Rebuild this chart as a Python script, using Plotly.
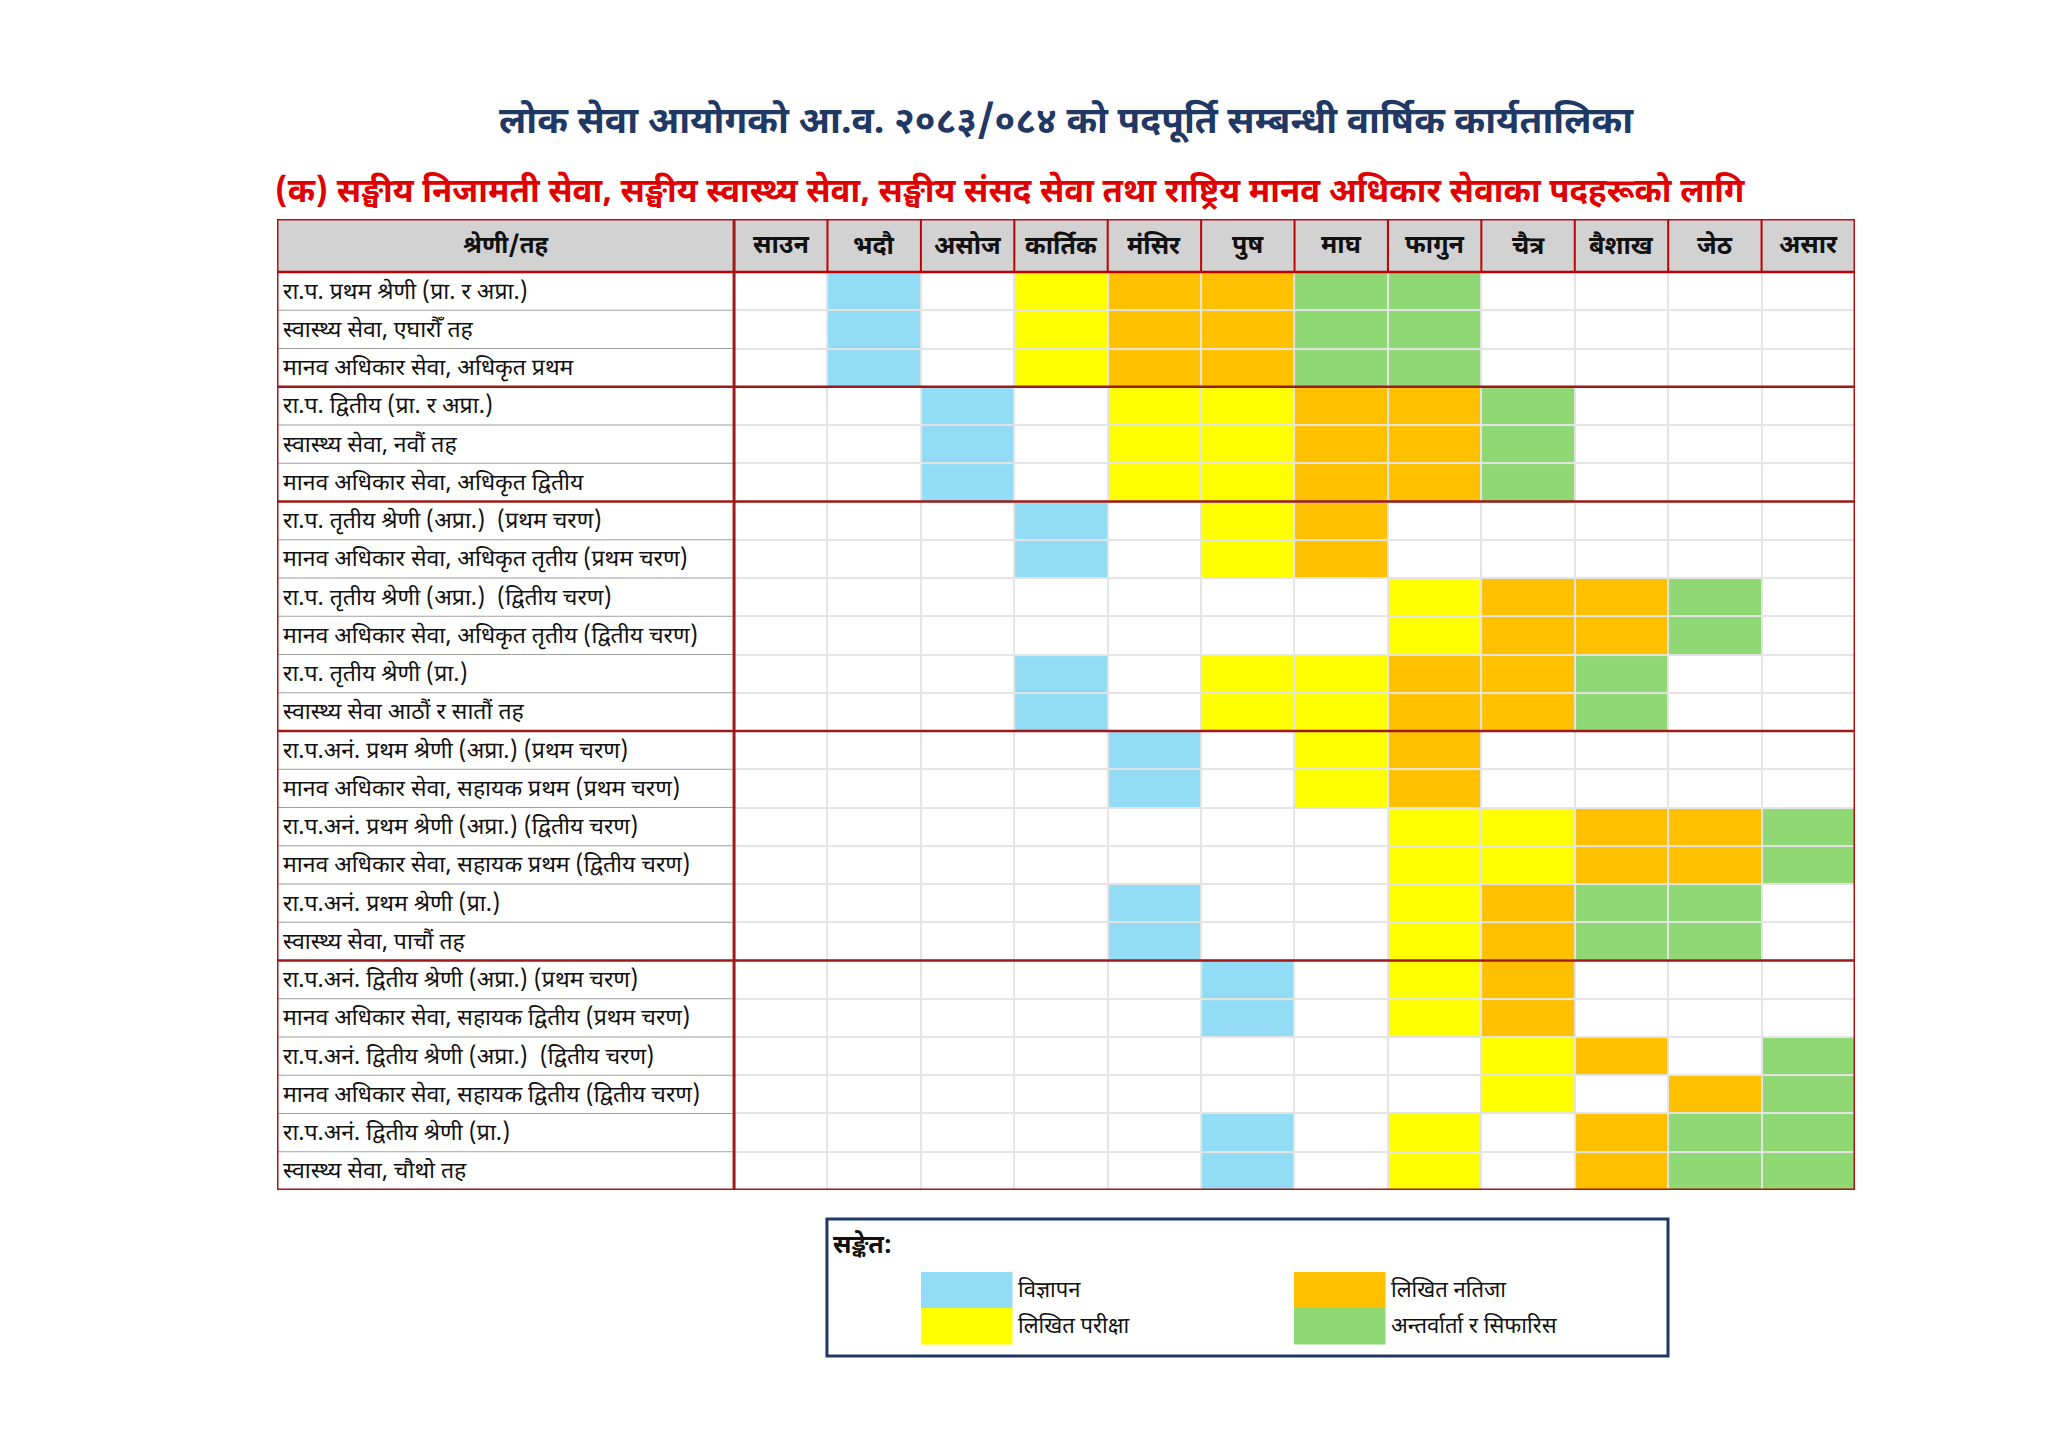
import plotly.graph_objects as go

# ---------------- data ----------------
title_text = "लोक सेवा आयोगको आ.व. २०८३/०८४ को पदपूर्ति सम्बन्धी वार्षिक कार्यतालिका"
subtitle_text = "(क) सङ्घीय निजामती सेवा, सङ्घीय स्वास्थ्य सेवा, सङ्घीय संसद सेवा तथा राष्ट्रिय मानव अधिकार सेवाका पदहरूको लागि"
header_label = "श्रेणी/तह"
months = ["साउन", "भदौ", "असोज", "कार्तिक", "मंसिर", "पुष", "माघ", "फागुन", "चैत्र", "बैशाख", "जेठ", "असार"]

row_labels = [
    "रा.प. प्रथम श्रेणी (प्रा. र अप्रा.)",
    "स्वास्थ्य सेवा, एघारौँ तह",
    "मानव अधिकार सेवा, अधिकृत प्रथम",
    "रा.प. द्वितीय (प्रा. र अप्रा.)",
    "स्वास्थ्य सेवा, नवौं तह",
    "मानव अधिकार सेवा, अधिकृत द्वितीय",
    "रा.प. तृतीय श्रेणी (अप्रा.)  (प्रथम चरण)",
    "मानव अधिकार सेवा, अधिकृत तृतीय (प्रथम चरण)",
    "रा.प. तृतीय श्रेणी (अप्रा.)  (द्वितीय चरण)",
    "मानव अधिकार सेवा, अधिकृत तृतीय (द्वितीय चरण)",
    "रा.प. तृतीय श्रेणी (प्रा.)",
    "स्वास्थ्य सेवा आठौं र सातौं तह",
    "रा.प.अनं. प्रथम श्रेणी (अप्रा.) (प्रथम चरण)",
    "मानव अधिकार सेवा, सहायक प्रथम (प्रथम चरण)",
    "रा.प.अनं. प्रथम श्रेणी (अप्रा.) (द्वितीय चरण)",
    "मानव अधिकार सेवा, सहायक प्रथम (द्वितीय चरण)",
    "रा.प.अनं. प्रथम श्रेणी (प्रा.)",
    "स्वास्थ्य सेवा, पाचौं तह",
    "रा.प.अनं. द्वितीय श्रेणी (अप्रा.) (प्रथम चरण)",
    "मानव अधिकार सेवा, सहायक द्वितीय (प्रथम चरण)",
    "रा.प.अनं. द्वितीय श्रेणी (अप्रा.)  (द्वितीय चरण)",
    "मानव अधिकार सेवा, सहायक द्वितीय (द्वितीय चरण)",
    "रा.प.अनं. द्वितीय श्रेणी (प्रा.)",
    "स्वास्थ्य सेवा, चौथो तह",
]

# stage per month: 0 = none, 1 = विज्ञापन, 2 = लिखित परीक्षा, 3 = लिखित नतिजा, 4 = अन्तर्वार्ता र सिफारिस
schedule = [
    [0, 1, 0, 2, 3, 3, 4, 4, 0, 0, 0, 0],
    [0, 1, 0, 2, 3, 3, 4, 4, 0, 0, 0, 0],
    [0, 1, 0, 2, 3, 3, 4, 4, 0, 0, 0, 0],
    [0, 0, 1, 0, 2, 2, 3, 3, 4, 0, 0, 0],
    [0, 0, 1, 0, 2, 2, 3, 3, 4, 0, 0, 0],
    [0, 0, 1, 0, 2, 2, 3, 3, 4, 0, 0, 0],
    [0, 0, 0, 1, 0, 2, 3, 0, 0, 0, 0, 0],
    [0, 0, 0, 1, 0, 2, 3, 0, 0, 0, 0, 0],
    [0, 0, 0, 0, 0, 0, 0, 2, 3, 3, 4, 0],
    [0, 0, 0, 0, 0, 0, 0, 2, 3, 3, 4, 0],
    [0, 0, 0, 1, 0, 2, 2, 3, 3, 4, 0, 0],
    [0, 0, 0, 1, 0, 2, 2, 3, 3, 4, 0, 0],
    [0, 0, 0, 0, 1, 0, 2, 3, 0, 0, 0, 0],
    [0, 0, 0, 0, 1, 0, 2, 3, 0, 0, 0, 0],
    [0, 0, 0, 0, 0, 0, 0, 2, 2, 3, 3, 4],
    [0, 0, 0, 0, 0, 0, 0, 2, 2, 3, 3, 4],
    [0, 0, 0, 0, 1, 0, 0, 2, 3, 4, 4, 0],
    [0, 0, 0, 0, 1, 0, 0, 2, 3, 4, 4, 0],
    [0, 0, 0, 0, 0, 1, 0, 2, 3, 0, 0, 0],
    [0, 0, 0, 0, 0, 1, 0, 2, 3, 0, 0, 0],
    [0, 0, 0, 0, 0, 0, 0, 0, 2, 3, 0, 4],
    [0, 0, 0, 0, 0, 0, 0, 0, 2, 0, 3, 4],
    [0, 0, 0, 0, 0, 1, 0, 2, 0, 3, 4, 4],
    [0, 0, 0, 0, 0, 1, 0, 2, 0, 3, 4, 4],
]

group_ends = [3, 6, 12, 18]   # a heavy line follows these rows
legend_title = "सङ्केत:"
stage_names = ["विज्ञापन", "लिखित परीक्षा", "लिखित नतिजा", "अन्तर्वार्ता र सिफारिस"]
stage_colors = ["#92DCF5", "#FFFF00", "#FFC000", "#90D874"]

# ---------------- style ----------------
FONT = "Noto Sans Devanagari, Lohit Devanagari, Noto Sans, sans-serif"
NAVY = "#1F3864"
RED = "#C00000"
DARKRED = "#9E1A1A"
LABEL_W = 4.893      # width of label column in month-column units
HEAD_H = 1.386       # header height in row units

n_rows = len(row_labels)
n_cols = len(months)
x_left = -0.5 - LABEL_W
x_right = n_cols - 0.5
y_top = -0.5 - HEAD_H
y_bot = n_rows - 0.5

# discrete colorscale
levels = ["#FFFFFF"] + stage_colors
nl = len(levels)
colorscale = []
for i, c in enumerate(levels):
    colorscale.append([i / nl, c])
    colorscale.append([(i + 1) / nl, c])

fig = go.Figure()
fig.add_trace(go.Heatmap(
    z=schedule,
    x=list(range(n_cols)),
    y=list(range(n_rows)),
    zmin=-0.5, zmax=nl - 0.5,
    colorscale=colorscale,
    showscale=False,
    xgap=2, ygap=2,
    hoverinfo="skip",
))

shapes = []
# backgrounds
shapes.append(dict(type="rect", xref="x", yref="y", x0=x_left, x1=-0.5, y0=-0.5, y1=y_bot,
                   fillcolor="white", line=dict(width=0), layer="below"))
shapes.append(dict(type="rect", xref="x", yref="y", x0=x_left, x1=x_right, y0=y_top, y1=-0.5,
                   fillcolor="#D2D2D2", line=dict(width=0), layer="below"))
# label column row lines
for r in range(1, n_rows):
    if r in group_ends:
        continue
    shapes.append(dict(type="line", xref="x", yref="y", x0=x_left, x1=-0.5, y0=r - 0.5, y1=r - 0.5,
                       line=dict(color="#A0A0A0", width=1.2)))
# header column dividers
for c in range(1, n_cols):
    shapes.append(dict(type="line", xref="x", yref="y", x0=c - 0.5, x1=c - 0.5, y0=y_top, y1=-0.5,
                       line=dict(color=RED, width=2)))
# header bottom
shapes.append(dict(type="line", xref="x", yref="y", x0=x_left, x1=x_right, y0=-0.5, y1=-0.5,
                   line=dict(color=RED, width=2.5)))
# group lines
for g in group_ends:
    shapes.append(dict(type="line", xref="x", yref="y", x0=x_left, x1=x_right, y0=g - 0.5, y1=g - 0.5,
                       line=dict(color=DARKRED, width=2.5)))
# label column right border
shapes.append(dict(type="line", xref="x", yref="y", x0=-0.5, x1=-0.5, y0=y_top, y1=y_bot,
                   line=dict(color=DARKRED, width=3)))
# outer border
shapes.append(dict(type="rect", xref="x", yref="y", x0=x_left, x1=x_right, y0=y_top, y1=y_bot,
                   line=dict(color="#B01212", width=3)))

annotations = []
# header texts
annotations.append(dict(x=(x_left - 0.5) / 2, y=-0.5 - HEAD_H / 2 + 0.04, xref="x", yref="y",
                        text="<b>" + header_label + "</b>",
                        showarrow=False, font=dict(family=FONT, size=24, color="#111111")))
for c, m in enumerate(months):
    annotations.append(dict(x=c, y=-0.5 - HEAD_H / 2 + 0.04, xref="x", yref="y", text="<b>" + m + "</b>",
                            showarrow=False, font=dict(family=FONT, size=25, color="#111111")))
# row labels
for r, lab in enumerate(row_labels):
    annotations.append(dict(x=x_left + 0.04, y=r + 0.04, xref="x", yref="y", text=lab, xanchor="left",
                            showarrow=False, font=dict(family=FONT, size=23, color="#111111")))
# titles
annotations.append(dict(x=0.5, y=1.126, xref="paper", yref="paper", text="<b>" + title_text + "</b>",
                        showarrow=False, font=dict(family=FONT, size=37, color=NAVY)))
annotations.append(dict(x=0.4645, y=1.052, xref="paper", yref="paper", text="<b>" + subtitle_text + "</b>",
                        showarrow=False, font=dict(family=FONT, size=33, color="#E00000")))

# legend box
LB = dict(x0=0.3485, x1=0.8815, y0=-0.171, y1=-0.0299)
shapes.append(dict(type="rect", xref="paper", yref="paper", **LB, line=dict(color=NAVY, width=3),
                   fillcolor="white"))
annotations.append(dict(x=0.351, y=-0.0566 - 0.021, xref="paper", yref="paper",
                        text="<b>" + legend_title + "</b>",
                        xanchor="left", showarrow=False, font=dict(family=FONT, size=25, color="#111111")))
sw_x = [0.4081, 0.4081, 0.6445, 0.6445]
sw_y = [-0.0845, -0.1215, -0.0845, -0.1215]
sw_w = 0.0580
sw_h = 0.0375
for i, name in enumerate(stage_names):
    shapes.append(dict(type="rect", xref="paper", yref="paper", x0=sw_x[i], x1=sw_x[i] + sw_w,
                       y0=sw_y[i] - sw_h, y1=sw_y[i], fillcolor=stage_colors[i], line=dict(width=0)))
    annotations.append(dict(x=sw_x[i] + sw_w + 0.002, y=sw_y[i] - sw_h / 2 - 0.018, xref="paper", yref="paper",
                            text=name, xanchor="left", showarrow=False,
                            font=dict(family=FONT, size=22, color="#111111")))

fig.update_layout(
    width=2048, height=1449, autosize=False,
    margin=dict(l=269, r=201, t=211, b=267, pad=0),
    paper_bgcolor="white", plot_bgcolor="#E4E4E4",
    xaxis=dict(range=[x_left, x_right], showgrid=False, zeroline=False, showticklabels=False, ticks="",
               fixedrange=True),
    yaxis=dict(range=[y_bot, y_top], showgrid=False, zeroline=False, showticklabels=False, ticks="",
               fixedrange=True),
    shapes=shapes, annotations=annotations, showlegend=False,
)

fig.write_html("out.html")
